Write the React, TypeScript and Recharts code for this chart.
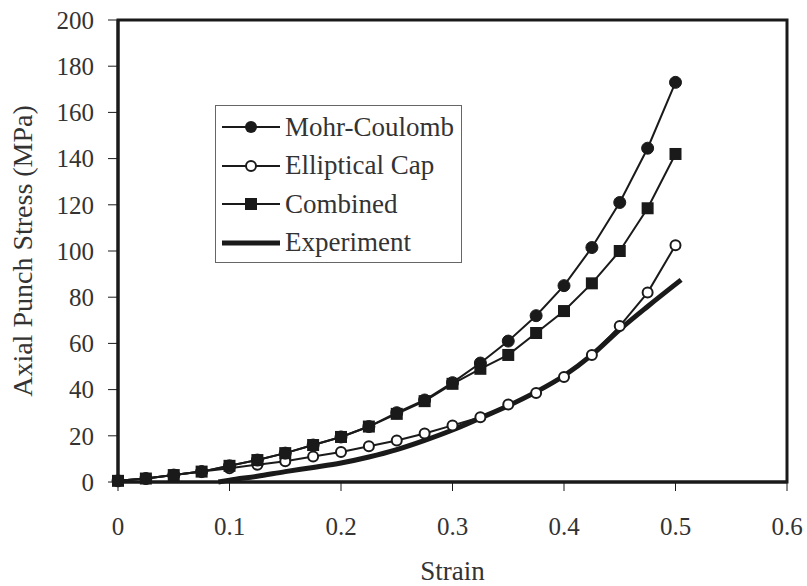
import { LineChart, Line, XAxis, YAxis, ReferenceArea } from "recharts";

// strain values shared by the three model series
const strain = [
  0, 0.025, 0.05, 0.075, 0.1, 0.125, 0.15, 0.175, 0.2, 0.225, 0.25, 0.275, 0.3,
  0.325, 0.35, 0.375, 0.4, 0.425, 0.45, 0.475, 0.5,
];
const mohrCoulomb = [
  0.5, 1.5, 3, 4.5, 7, 9.5, 12.5, 16, 19.5, 24, 30, 35.5, 43, 51.5, 61, 72, 85,
  101.5, 121, 144.5, 173,
];
const ellipticalCap = [
  0.5, 1.5, 3, 4.5, 6, 7.5, 9, 11, 13, 15.5, 18, 21, 24.5, 28, 33.5, 38.5, 45.5,
  55, 67.5, 82, 102.5,
];
const combined = [
  0.5, 1.5, 3, 4.5, 7, 9.5, 12.5, 16, 19.5, 24, 29.5, 35, 42.5, 49, 55, 64.5,
  74, 86, 100, 118.5, 142,
];

// experiment curve has its own strain points
const expStrain = [
  0.09, 0.1, 0.125, 0.15, 0.175, 0.2, 0.225, 0.25, 0.275, 0.3, 0.325, 0.35,
  0.375, 0.4, 0.425, 0.45, 0.475, 0.505,
];
const experiment = [
  0, 0.8, 2.5, 4.5, 6.3, 8.2, 10.8, 14, 18, 22.5, 27.7, 33, 39, 46, 55, 66, 76,
  87.5,
];

const xTicks = [0, 0.1, 0.2, 0.3, 0.4, 0.5, 0.6];
const yTicks = [0, 20, 40, 60, 80, 100, 120, 140, 160, 180, 200];

const mcData = strain.map((s, i) => ({ x: s, y: mohrCoulomb[i] }));
const ecData = strain.map((s, i) => ({ x: s, y: ellipticalCap[i] }));
const cbData = strain.map((s, i) => ({ x: s, y: combined[i] }));
const expData = expStrain.map((s, i) => ({ x: s, y: experiment[i] }));

const FONT = "'Liberation Serif', 'Times New Roman', serif";
const INK = "#1a1a1a";
const TEXT = "#333";

function SquareDot(props: any) {
  const { cx, cy, index } = props;
  if (cx == null || cy == null) return null;
  return (
    <rect
      key={`sq-${index}`}
      x={cx - 6}
      y={cy - 6}
      width={12}
      height={12}
      fill={INK}
    />
  );
}

function LegendBox() {
  const rows = [
    { name: "Mohr-Coulomb", kind: "filled" },
    { name: "Elliptical Cap", kind: "open" },
    { name: "Combined", kind: "square" },
    { name: "Experiment", kind: "thick" },
  ];
  return (
    <div
      style={{
        position: "absolute",
        left: 215,
        top: 105,
        border: "1px solid #666",
        background: "#fff",
        width: 247,
        height: 158,
        boxSizing: "border-box",
        padding: "2px 0 0 6px",
        fontFamily: FONT,
        fontSize: 27,
        color: TEXT,
      }}
    >
      {rows.map((r) => (
        <div
          key={r.name}
          style={{
            display: "flex",
            alignItems: "center",
            height: 38.5,
            whiteSpace: "nowrap",
          }}
        >
          <svg width={60} height={20} style={{ flex: "none" }}>
            <line
              x1={0}
              x2={58}
              y1={10}
              y2={10}
              stroke={INK}
              strokeWidth={r.kind === "thick" ? 5 : 2}
            />
            {r.kind === "filled" && <circle cx={29} cy={10} r={6} fill={INK} />}
            {r.kind === "open" && (
              <circle
                cx={29}
                cy={10}
                r={5}
                fill="#fff"
                stroke={INK}
                strokeWidth={2}
              />
            )}
            {r.kind === "square" && (
              <rect x={23} y={4} width={12} height={12} fill={INK} />
            )}
          </svg>
          <span style={{ marginLeft: 3 }}>{r.name}</span>
        </div>
      ))}
    </div>
  );
}

export default function App() {
  return (
    <div
      style={{
        position: "absolute",
        left: 0,
        top: 0,
        width: 807,
        height: 586,
        background: "#fff",
      }}
    >
      <LineChart
        width={807}
        height={586}
        margin={{ top: 20, right: 20, bottom: 0, left: 0 }}
      >
        <XAxis
          type="number"
          dataKey="x"
          domain={[0, 0.6]}
          ticks={xTicks}
          interval={0}
          tickFormatter={(v: number) => String(v)}
          height={104}
          tickSize={9}
          tickMargin={26}
          axisLine={{ stroke: INK, strokeWidth: 3 }}
          tickLine={{ stroke: INK, strokeWidth: 1 }}
          tick={{ fontSize: 25, fill: TEXT, fontFamily: FONT }}
          allowDuplicatedCategory={false}
          label={{
            value: "Strain",
            position: "insideBottom",
            offset: 6,
            style: { fontSize: 27, fill: TEXT, fontFamily: FONT },
          }}
        />
        <YAxis
          type="number"
          dataKey="y"
          domain={[0, 200]}
          ticks={yTicks}
          interval={0}
          width={118}
          tickSize={10}
          tickMargin={14}
          axisLine={{ stroke: INK, strokeWidth: 3 }}
          tickLine={{ stroke: INK, strokeWidth: 1 }}
          tick={{ fontSize: 25, fill: TEXT, fontFamily: FONT }}
          label={{
            value: "Axial Punch Stress (MPa)",
            angle: -90,
            position: "insideLeft",
            offset: 22,
            style: {
              fontSize: 28,
              fill: TEXT,
              fontFamily: FONT,
              textAnchor: "middle",
            },
          }}
        />
        <ReferenceArea
          x1={0}
          x2={0.6}
          y1={0}
          y2={200}
          fill="none"
          stroke={INK}
          strokeWidth={3}
          ifOverflow="visible"
        />
        <Line
          data={expData}
          dataKey="y"
          name="Experiment"
          type="monotone"
          stroke={INK}
          strokeWidth={5}
          dot={false}
          isAnimationActive={false}
        />
        <Line
          data={ecData}
          dataKey="y"
          name="Elliptical Cap"
          type="linear"
          stroke={INK}
          strokeWidth={2}
          dot={{ r: 5, fill: "#fff", stroke: INK, strokeWidth: 2 }}
          isAnimationActive={false}
        />
        <Line
          data={cbData}
          dataKey="y"
          name="Combined"
          type="linear"
          stroke={INK}
          strokeWidth={2}
          dot={SquareDot}
          isAnimationActive={false}
        />
        <Line
          data={mcData}
          dataKey="y"
          name="Mohr-Coulomb"
          type="linear"
          stroke={INK}
          strokeWidth={2}
          dot={{ r: 6, fill: INK, stroke: INK, strokeWidth: 1 }}
          isAnimationActive={false}
        />
      </LineChart>
      <LegendBox />
    </div>
  );
}
